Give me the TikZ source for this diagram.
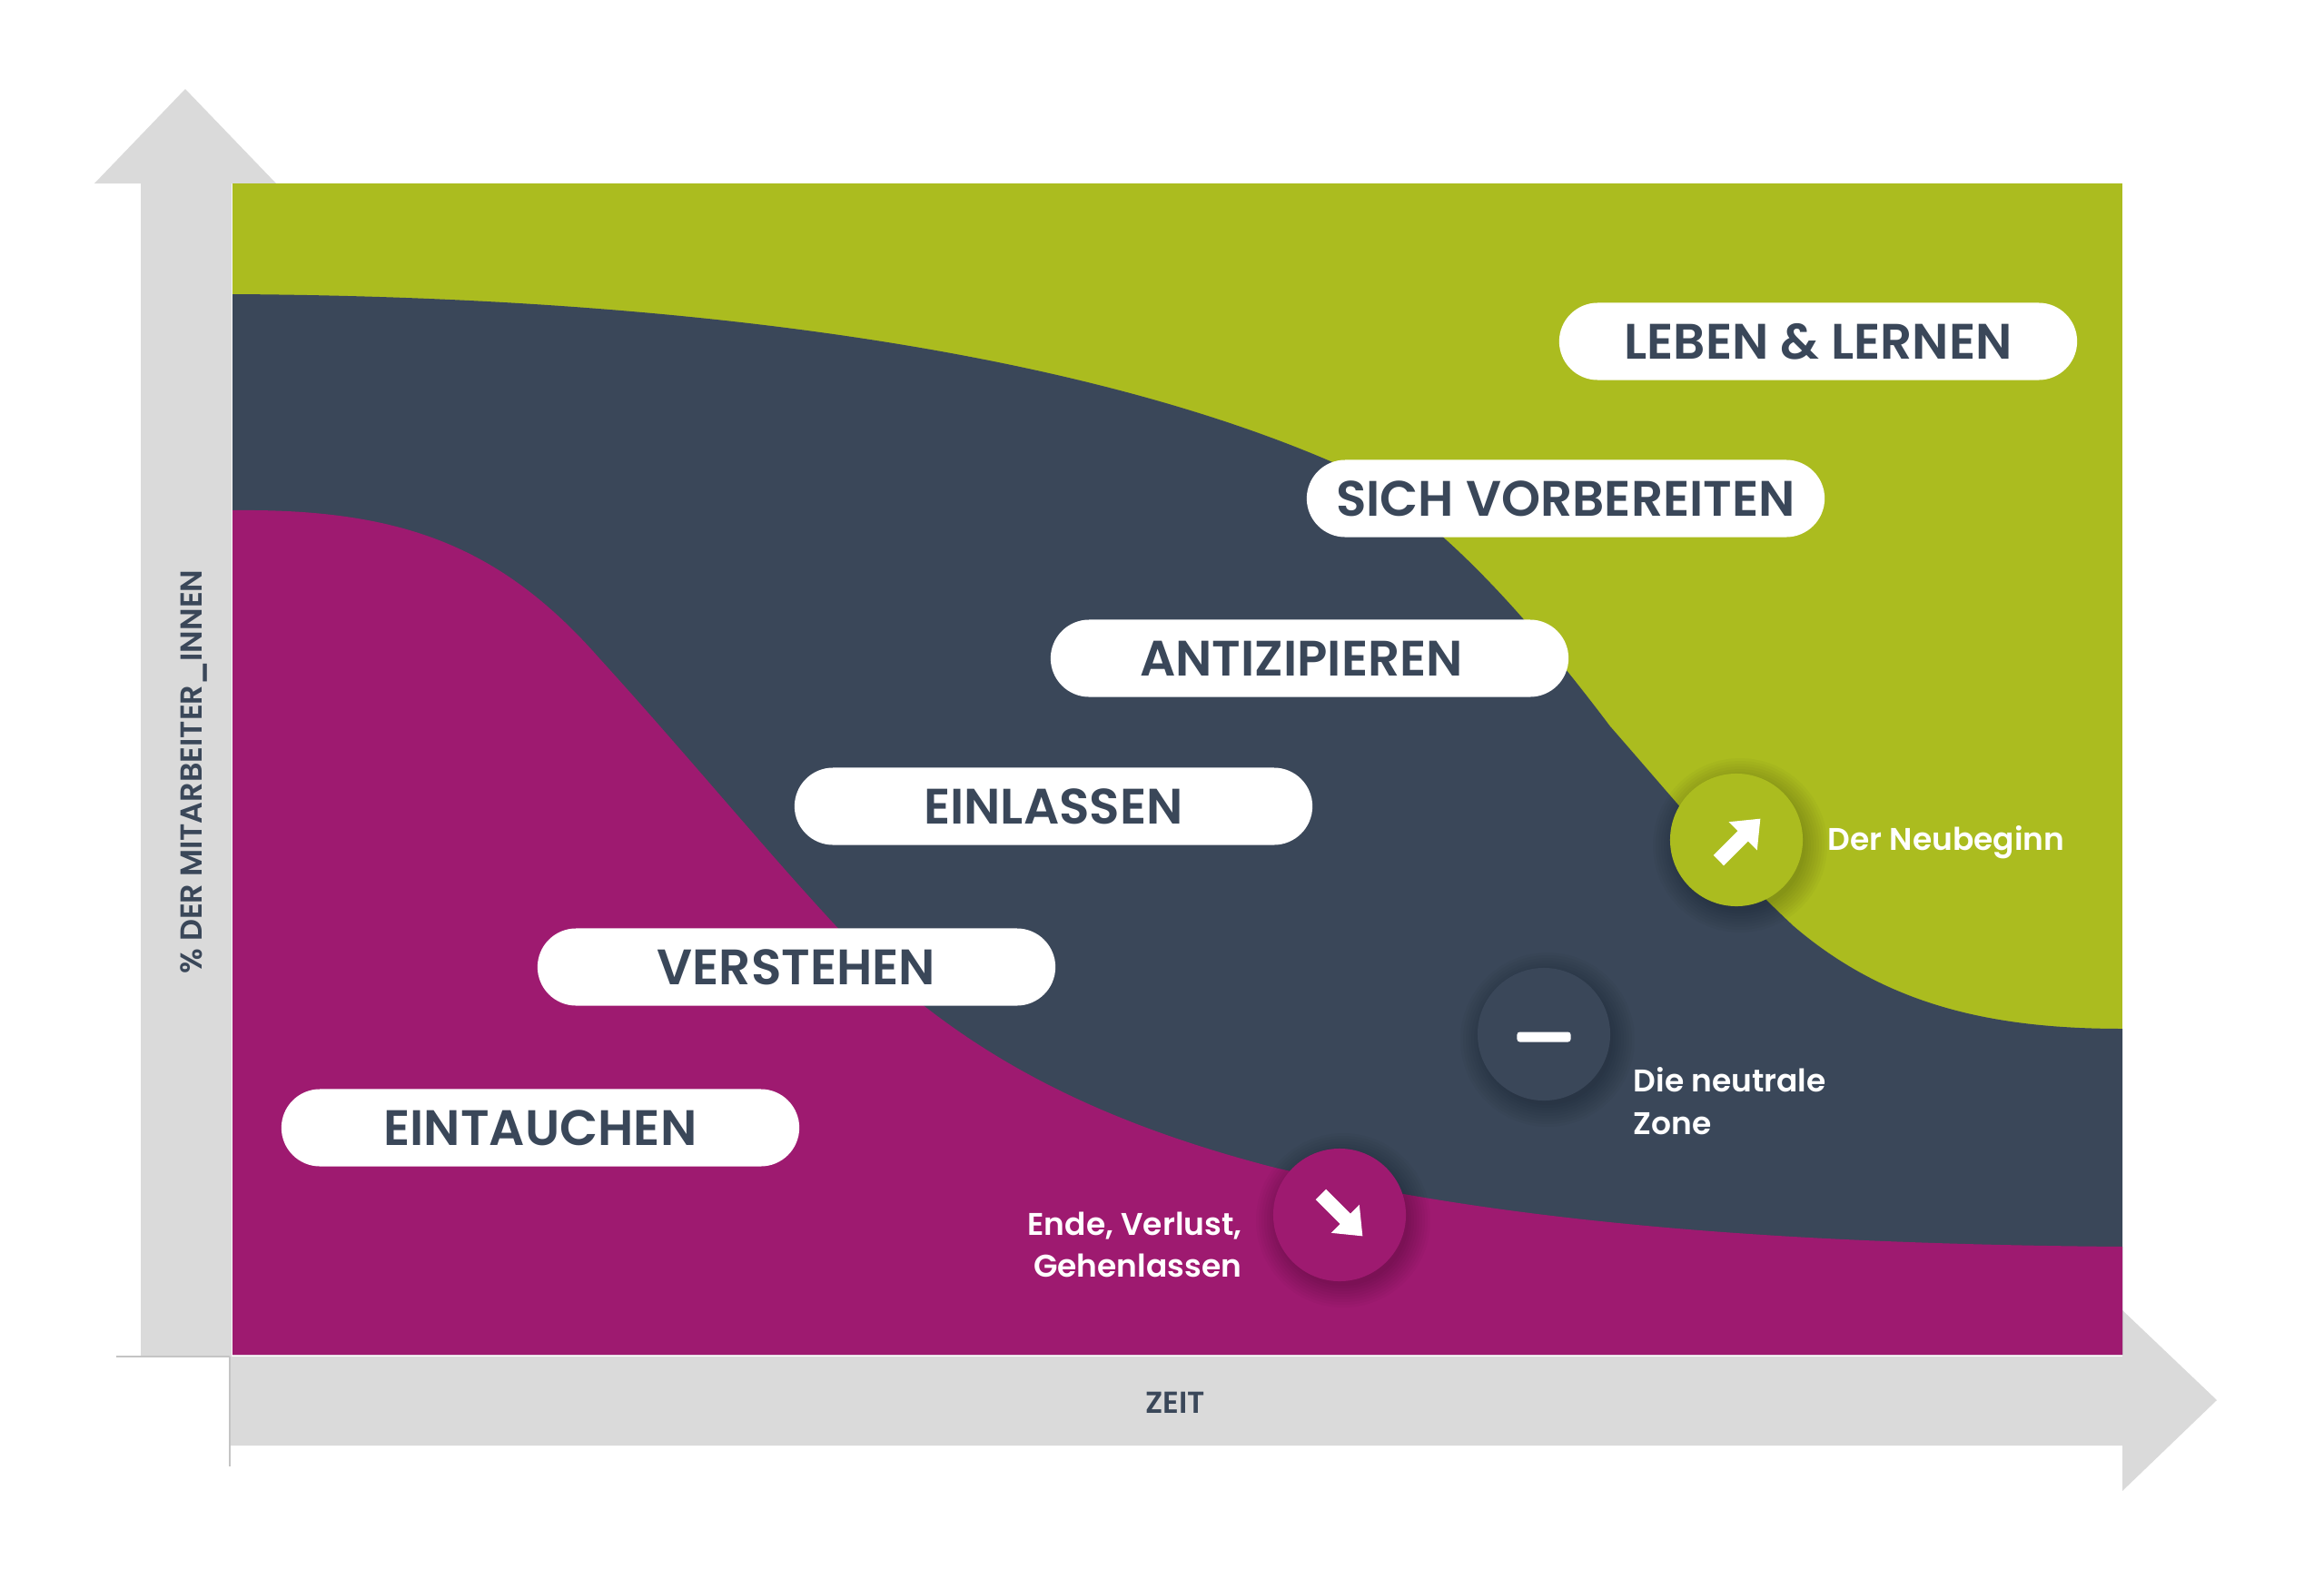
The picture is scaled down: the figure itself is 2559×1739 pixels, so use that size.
\documentclass[tikz,border=0pt]{standalone}
\usepackage{fontspec}
\setmainfont{Poppins}[BoldFont={Poppins SemiBold}]
\usetikzlibrary{positioning}
\definecolor{limegreen}{HTML}{ABBC1F}
\definecolor{slate}{HTML}{3A4759}
\definecolor{wine}{HTML}{9E1A70}
\definecolor{axisgray}{HTML}{DADADA}
\definecolor{tickgray}{HTML}{C4C4C4}
\tikzset{
  pill/.style={fill=white,rounded corners=0.425cm,minimum width=5.7cm,minimum height=0.85cm,inner sep=0pt,text=slate,font=\fontsize{15.6}{20}\selectfont\bfseries},
  badge/.style={circle,minimum size=1.46cm,inner sep=0pt},
  note/.style={text=white,inner sep=0pt,font=\fontsize{9.8}{13.3}\selectfont\bfseries},
  axislabel/.style={text=slate,inner sep=0pt,font=\fontsize{9.5}{10}\selectfont\bfseries},
  arrowicon/.pic={\fill[white] (-32,-8) -- (6,-8) -- (6,-22) -- (33,0) -- (6,22) -- (6,8) -- (-32,8) -- cycle;}
}
\begin{document}
\begin{tikzpicture}[x=0.01cm,y=-0.01cm]
 \useasboundingbox (0,0) rectangle (2559,1739);

 %Axis
 \fill[axisgray] (155,1494) -- (155,202) -- (104,202) -- (204,98) -- (304,202) -- (255,202) -- (255,1494) -- cycle;
 \fill[axisgray] (253,1494) -- (2337,1494) -- (2337,1443) -- (2441,1542) -- (2337,1642) -- (2337,1592) -- (253,1592) -- cycle;
 \draw[tickgray,line width=0.6pt] (128,1494) -- (253,1494);
 \draw[tickgray,line width=0.6pt] (253,1494) -- (253,1615);

 %Areas
 \fill[limegreen] (256,202) rectangle (2337,1492);
 \fill[slate] (256,324) .. controls (780,327) and (1195,392) .. (1465,508) .. controls (1560,549) and (1660,650) .. (1773,800) .. controls (1850,888) and (1900,950) .. (1975,1020) .. controls (2080,1110) and (2200,1133) .. (2337,1133) -- (2337,1492) -- (256,1492) -- cycle;
 \fill[wine] (256,562) .. controls (440,560) and (550,600) .. (660,725) .. controls (760,835) and (850,945) .. (930,1030) .. controls (1040,1140) and (1170,1225) .. (1400,1285) .. controls (1650,1345) and (1950,1370) .. (2337,1373) -- (2337,1492) -- (256,1492) -- cycle;

 %Shadows
 \foreach \x/\y in {1916/931,1704/1145,1479/1344}
  \foreach \r in {72,75,...,96}
   \fill[black,opacity=0.025] (\x,\y) circle[radius=\r];

 %Name
 \foreach \name/\txt/\x/\y in {leben/LEBEN \& LERNEN/2002/376,sich/SICH VORBEREITEN/1724/549,anti/ANTIZIPIEREN\kern0.18cm/1442/725,einlassen/EINLASSEN/1160/888,verstehen/VERSTEHEN/877/1065,eintauchen/EINTAUCHEN/595/1242}
  \node[pill] (\name) at (\x,\y) {\txt};

 %Circles
 \node[badge,fill=limegreen] (neubeginn) at (1912,925) {};
 \node[badge,fill=slate] (neutral) at (1700,1139) {};
 \node[badge,fill=wine] (ende) at (1475,1338) {};
 \pic[rotate=45] at ([xshift=0.03cm]neubeginn) {arrowicon};
 \pic[rotate=-45] at ([xshift=0.02cm]ende) {arrowicon};
 \node[fill=white,rounded corners=0.03cm,minimum width=0.59cm,minimum height=0.11cm,inner sep=0pt] (minus) at ([yshift=-0.03cm]neutral) {};

 %Labels
 \node[note,right=1cm of neubeginn.center,anchor=west,yshift=-0.03cm] (neubeginntext) {Der Neubeginn};
 \node[note,align=left,anchor=north west] (neutraltext) at (1798,1175) {Die neutrale\\Zone};
 \node[note,align=right,anchor=north east] (endetext) at (1368,1334) {Ende, Verlust,\\Gehenlassen};
 \node[axislabel] (zeit) at (1294,1545) {ZEIT};
 \node[axislabel,rotate=90] (mitarbeiter) at (213,850) {\% DER MITARBEITER\_INNEN};
\end{tikzpicture}
\end{document}
